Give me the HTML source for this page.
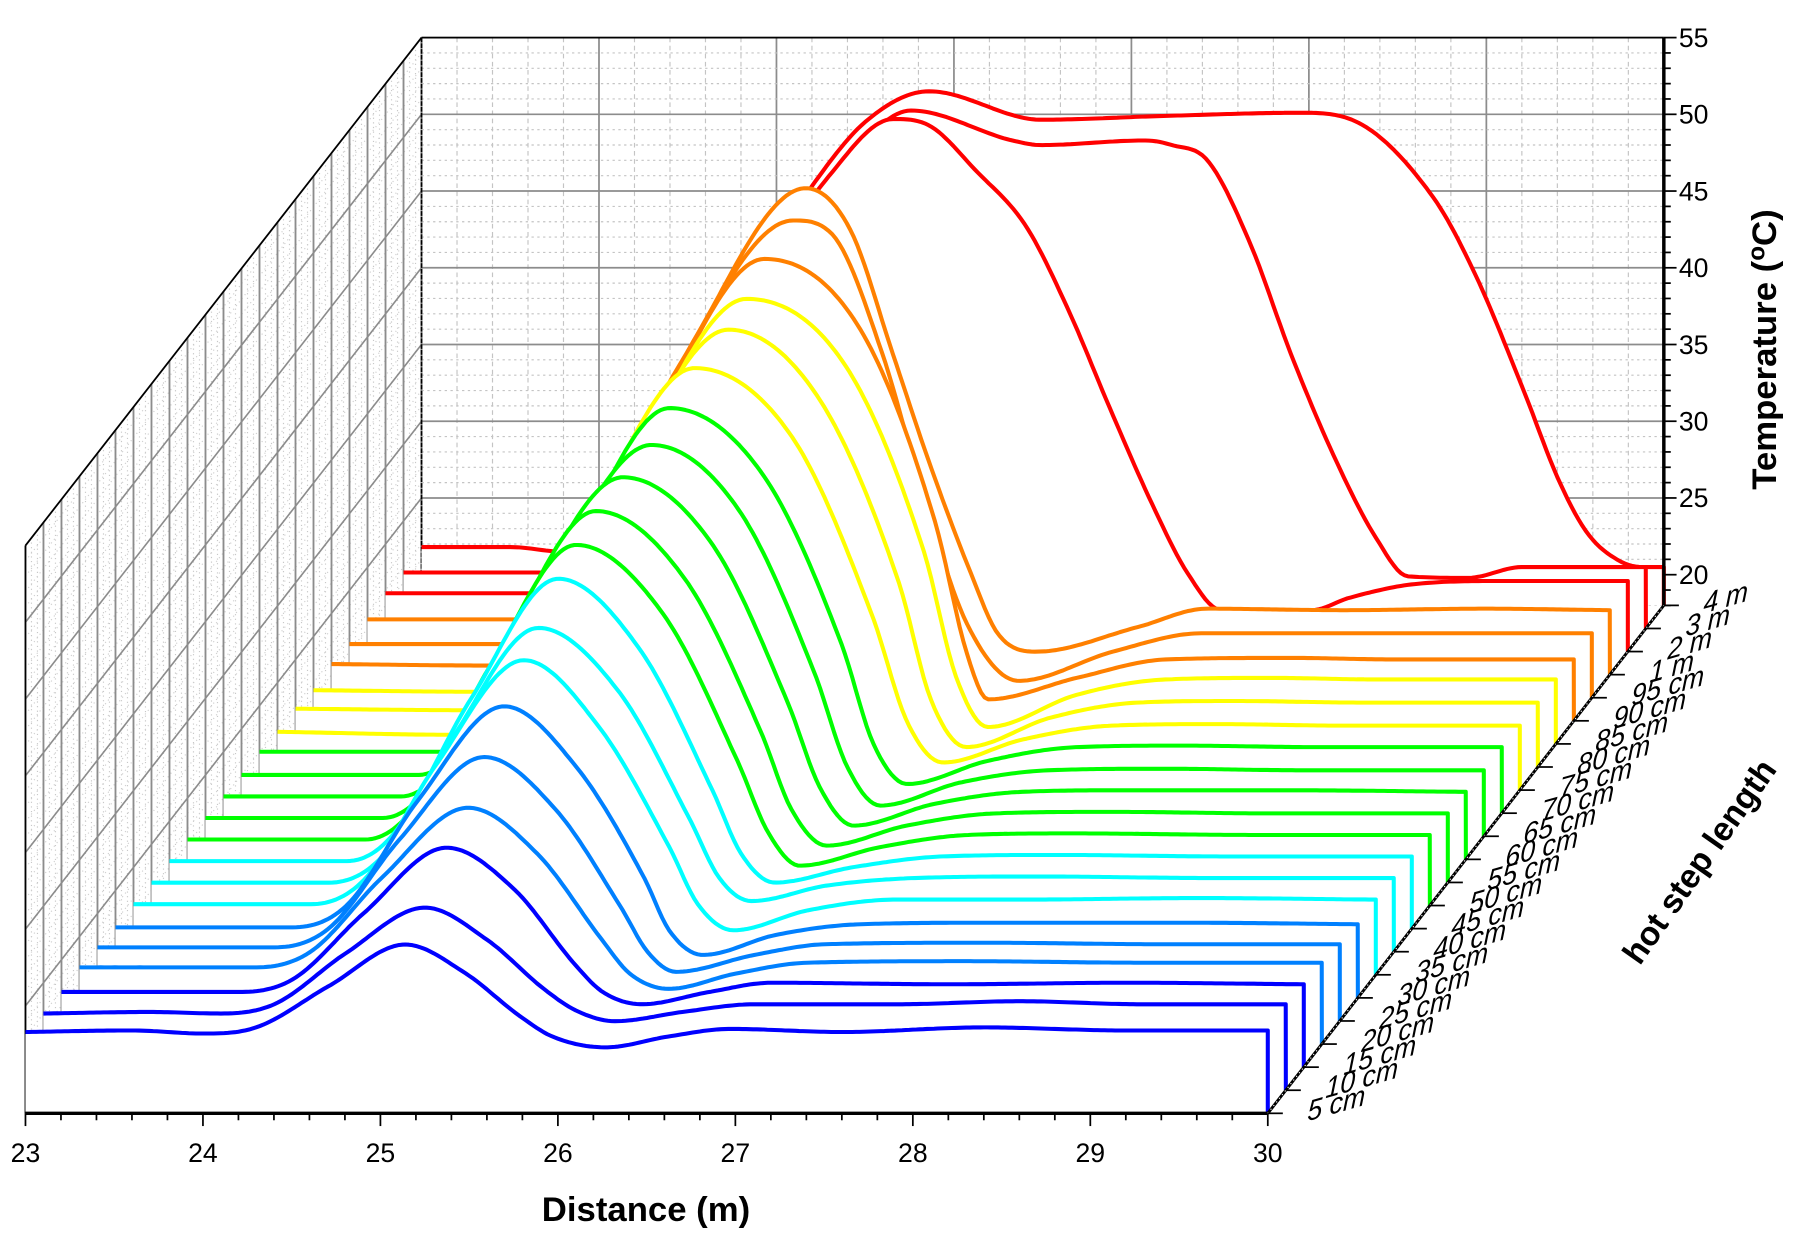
<!DOCTYPE html>
<html><head><meta charset="utf-8"><style>
html,body{margin:0;padding:0;background:#fff;}
svg{display:block;}
text{font-family:"Liberation Sans",Arial,sans-serif;}
</style></head>
<body>
<svg id="chart" width="1806" height="1236" viewBox="0 0 1560 1068" preserveAspectRatio="none" xmlns="http://www.w3.org/2000/svg">
<g id="walls"></g>
<g id="series"></g>
<g id="axes"></g>
</svg>
<script>
// ---- data ----
const xTicks = [23,24,25,26,27,28,29,30];
const tTicks = [20,25,30,35,40,45,50,55];
const stepLabels = ['5 cm','10 cm','15 cm','20 cm','25 cm','30 cm','35 cm','40 cm','45 cm','50 cm','55 cm','60 cm','65 cm','70 cm','75 cm','80 cm','85 cm','90 cm','95 cm','1 m','2 m','3 m','4 m'];
const seriesColors = ['#0000ff','#0000ff','#0000ff','#0080ff','#0080ff','#0080ff','#00ffff','#00ffff','#00ffff','#00ff00','#00ff00','#00ff00','#00ff00','#00ff00','#ffff00','#ffff00','#ffff00','#ff8000','#ff8000','#ff8000','#ff0000','#ff0000','#ff0000'];
const curveD = [
[23,23.6,24.0,24.3,24.71,25.14,25.47,25.79,25.97,26.27,26.62,26.97,27.6,28.4,29.2,30],
[23,23.6,24.0,24.3,24.7,25.15,25.5,25.82,26.0,26.22,26.6,27.0,27.8,28.5,29.2,30],
[23,24.0,24.3,24.7,25.17,25.55,25.9,26.05,26.27,26.65,27.0,28.0,29,30],
[23,24.0,24.3,24.7,25.19,25.58,25.95,26.1,26.32,26.7,27.1,28,29,30],
[23,24.0,24.3,24.7,25.18,25.58,25.95,26.1,26.26,26.7,27.1,28,29,30],
[23,24.0,24.3,24.7,25.19,25.6,25.98,26.12,26.31,26.72,27.2,28,29,30],
[23,24.0,24.3,24.7,25.2,25.62,26.02,26.18,26.38,26.8,27.3,28,29,30],
[23,24.0,24.3,24.7,25.18,25.63,26.03,26.2,26.38,26.8,27.3,28,29,30],
[23,24.0,24.25,24.7,25.19,25.65,26.06,26.22,26.41,26.85,27.35,28,29,30],
[23,24.0,24.25,24.7,25.19,25.68,26.1,26.27,26.45,26.9,27.4,28,29,30],
[23,24.0,24.25,24.7,25.2,25.7,26.13,26.3,26.5,26.95,27.45,28.1,29,30],
[23,24.0,24.25,24.7,25.25,25.75,26.18,26.36,26.55,27.0,27.5,28.1,29,30],
[23,24.0,24.25,24.75,25.31,25.8,26.23,26.41,26.6,27.05,27.55,28.2,29,30],
[23,24.05,24.3,24.8,25.31,25.84,26.28,26.46,26.65,27.1,27.6,28.2,29,30],
[23,24.05,24.3,24.8,25.35,25.9,26.35,26.55,26.75,27.2,27.7,28.3,29,30],
[23,24.0,24.3,24.85,25.44,25.95,26.4,26.58,26.78,27.25,27.75,28.3,29,30],
[23,23.95,24.25,24.85,25.44,26.0,26.44,26.62,26.8,27.3,27.8,28.4,29,30],
[23,23.94,24.25,24.85,25.44,25.98,26.4,26.58,26.7,27.2,27.7,28.4,29,30],
[23,23.89,24.2,24.85,25.5,25.72,26.0,26.25,26.48,26.77,27.3,27.8,28.4,29,30],
[23,23.86,24.2,24.85,25.47,25.72,25.96,26.16,26.4,26.55,26.77,27.34,27.73,28.5,29.3,30],
[23,23.85,24.2,24.6,24.9,25.5,25.86,26.06,26.33,26.61,26.85,27.08,27.32,27.52,27.71,28.22,28.43,28.8,29.3,30],
[23,23.81,24.2,24.6,24.9,25.5,25.86,26.43,26.59,27.18,27.33,27.53,27.77,28.0,28.24,28.48,28.66,29.0,29.3,30],
[23,23.5,23.8,24.2,24.6,24.9,25.18,25.5,25.86,26.49,27.2,27.95,28.23,28.7,28.94,29.21,29.41,29.57,29.75,29.88,30]
];
const curveT = [
[23.3,23.4,23.2,23.6,26.3,29.0,27.2,24.3,23.0,22.3,23.0,23.5,23.3,23.6,23.4,23.4],
[23.0,23.1,23.0,23.6,26.9,29.9,27.8,24.6,23.2,22.5,23.1,23.6,23.6,23.8,23.6,23.6],
[22.9,22.9,23.7,28.0,32.3,29.6,24.6,22.9,22.1,22.9,23.5,23.4,23.5,23.4],
[23.0,23.0,24.0,28.8,33.4,30.4,24.7,22.6,21.6,22.6,23.3,23.4,23.3,23.3],
[22.8,22.8,24.0,29.8,35.2,31.8,25.4,22.5,21.2,22.3,23.0,23.1,23.0,23.0],
[22.6,22.6,24.0,30.8,37.0,33.0,25.8,22.4,20.8,22.1,22.8,22.9,22.9,22.8],
[22.6,22.6,24.2,31.6,38.5,34.2,26.3,22.6,20.9,22.2,22.9,22.9,23.0,22.9],
[22.5,22.5,24.2,32.0,39.1,35.0,26.7,22.8,21.3,22.3,22.8,22.9,22.8,22.8],
[22.4,22.4,24.0,33.0,40.8,36.2,27.0,22.9,21.0,22.0,22.7,22.8,22.7,22.7],
[22.3,22.3,24.0,33.5,41.5,37.0,27.4,22.8,20.6,21.8,22.6,22.7,22.6,22.6],
[22.2,22.2,24.1,34.0,42.2,37.8,27.8,22.8,20.4,21.7,22.5,22.6,22.5,22.5],
[22.1,22.1,24.1,34.4,42.9,38.6,28.2,22.7,20.2,21.6,22.4,22.5,22.5,22.4],
[22.0,22.0,24.1,35.3,43.5,39.3,28.6,22.6,20.0,21.5,22.3,22.4,22.3,22.3],
[22.0,22.0,24.2,36.0,44.4,40.0,29.0,22.5,19.9,21.4,22.3,22.4,22.3,22.3],
[21.8,21.6,24.0,36.5,45.5,41.0,29.4,22.4,19.8,21.3,22.2,22.3,22.2,22.2],
[21.8,21.7,24.3,37.3,46.5,42.0,30.0,22.4,19.3,21.2,22.2,22.3,22.2,22.2],
[21.5,21.4,24.2,37.8,47.0,42.6,30.5,22.4,19.1,21.2,22.2,22.3,22.2,22.2],
[21.7,21.6,24.4,38.5,48.1,43.5,31.0,22.4,19.4,20.8,22.0,22.1,22.0,22.0],
[21.5,21.5,24.4,39.5,49.1,48.2,40.5,30.5,22.8,19.1,21.0,22.2,22.2,22.2,22.2],
[21.6,21.6,24.6,40.0,49.7,47.0,38.9,32.0,24.6,20.7,19.5,21.1,22.3,22.2,22.3,22.2],
[21.8,21.8,24.6,31.5,38.5,49.0,52.7,52.3,49.3,45.7,40.2,33.9,27.6,23.1,20.7,20.7,21.5,22.4,22.6,22.6],
[21.65,21.65,24.6,31.5,38.5,48.5,51.75,49.8,49.5,49.8,49.5,48.5,43.1,35.9,29.3,23.9,21.4,21.3,22.0,22.0],
[21.8,21.8,21.5,24.4,33.0,40.0,45.0,49.5,51.5,49.65,49.9,50.1,49.7,44.6,39.5,32.0,26.1,22.7,20.9,20.5,20.5]
];

// ---- projection ----
const NS='http://www.w3.org/2000/svg';
const X0=22, PX_PER_M=153.3, DX=15.55, Y0=962, PX_PER_C=13.26, DY=19.95, TMIN=18, TMAX=55;
function sx(d,k){return X0+(d-23)*PX_PER_M+k*DX;}
function sy(t,k){return Y0-(t-TMIN)*PX_PER_C-k*DY;}
function mk(tag,attrs,parent){const e=document.createElementNS(NS,tag);for(const a in attrs)e.setAttribute(a,attrs[a]);parent.appendChild(e);return e;}
function line(p,x1,y1,x2,y2,st,w,dash){return mk('line',{x1:x1,y1:y1,x2:x2,y2:y2,stroke:st,'stroke-width':w,'stroke-dasharray':dash||'none'},p);}
const KMAX=stepLabels.length-1;

function monotone(xs,ys){
  const n=xs.length,dl=[],m=[];
  for(let i=0;i<n-1;i++)dl.push((ys[i+1]-ys[i])/(xs[i+1]-xs[i]));
  m[0]=dl[0];m[n-1]=dl[n-2];
  for(let i=1;i<n-1;i++){m[i]=(dl[i-1]*dl[i]<=0)?0:(dl[i-1]+dl[i])/2;}
  for(let i=0;i<n-1;i++){if(dl[i]===0){m[i]=0;m[i+1]=0;continue;}const a=m[i]/dl[i],b=m[i+1]/dl[i],s=a*a+b*b;if(s>9){const t=3/Math.sqrt(s);m[i]=t*a*dl[i];m[i+1]=t*b*dl[i];}}
  return function(x){let i=0;while(i<n-2&&x>xs[i+1])i++;const h=xs[i+1]-xs[i],t=(x-xs[i])/h,t2=t*t,t3=t2*t;
    return (2*t3-3*t2+1)*ys[i]+(t3-2*t2+t)*h*m[i]+(-2*t3+3*t2)*ys[i+1]+(t3-t2)*h*m[i+1];};
}

// ---- walls ----
const walls=document.getElementById('walls');
for(let k=0;k<KMAX;k++){
  for(let j=1;j<3;j++){const x=sx(23,k)+DX*j/3;
    const l=line(walls,x,sy(TMAX,k+j/3),x,sy(TMIN,k+j/3),'#c8c8c8',1,'1 3');
    }
}
for(let t=TMIN;t<=TMAX;t+=1){
  const major=(t%5===0);
  const l=line(walls,sx(23,0),sy(t,0),sx(23,KMAX),sy(t,KMAX),major?'#8c8c8c':'#cfcfcf',major?1.4:1,major?'none':'1 3');
  
}
for(let k=0;k<=KMAX;k++){
  const l=line(walls,sx(23,k),sy(TMAX,k),sx(23,k),sy(TMIN,k),'#8c8c8c',1.6);
  
}
for(let d=23;d<=30.001;d+=0.2){
  const isMaj=Math.abs(d-Math.round(d))<1e-6;
  const l=line(walls,sx(d,KMAX),sy(TMAX,KMAX),sx(d,KMAX),sy(TMIN,KMAX),isMaj?'#8c8c8c':'#c4c4c4',isMaj?1.5:1,isMaj?'none':'4 3');
  
}
for(let t=TMIN;t<=TMAX;t+=1){
  const major=(t%5===0);
  const l=line(walls,sx(23,KMAX),sy(t,KMAX),sx(30,KMAX),sy(t,KMAX),major?'#8c8c8c':'#c4c4c4',major?1.5:1,major?'none':'2 3');
  
}
let e;
e=line(walls,sx(23,KMAX),sy(TMAX,KMAX),sx(30,KMAX),sy(TMAX,KMAX),'#000',1.5);

e=line(walls,sx(23,KMAX),sy(TMAX,KMAX),sx(23,KMAX),sy(TMIN,KMAX),'#000',1.5,'4 1');

e=line(walls,sx(23,0),sy(TMAX,0),sx(23,KMAX),sy(TMAX,KMAX),'#000',1.5);

e=line(walls,sx(23,0),sy(TMAX,0),sx(23,0),sy(TMIN,0),'#000',1.5);


// ---- series (back to front) ----
const sg=document.getElementById('series');
for(let k=KMAX;k>=0;k--){
  const ds=curveD[k],ts=curveT[k],f=monotone(ds,ts);
  let pts=[];
  for(let d=ds[0];d<=30.0001;d+=0.02){pts.push([sx(d,k),sy(f(d),k)]);}
  let curve=pts.map((p,i)=>(i?'L':'M')+p[0].toFixed(1)+','+p[1].toFixed(1)).join('');
  const fill=mk('path',{d:'M'+sx(23,k)+','+sy(TMIN,k)+curve.replace(/^M/,'L')+'L'+sx(30,k)+','+sy(TMIN,k)+'Z',fill:'#fff',stroke:'none'},sg);
  
  
  const p=mk('path',{d:curve+'L'+sx(30,k).toFixed(1)+','+sy(TMIN,k).toFixed(1),fill:'none',stroke:seriesColors[k],'stroke-width':3.5,'stroke-linejoin':'round'},sg);
  
  
}

// ---- axes ----
const ax=document.getElementById('axes');
e=line(ax,sx(23,0),Y0,sx(30,0),Y0,'#000',3);

for(let d=23;d<=30.001;d+=0.2){
  const isMaj=Math.abs(d-Math.round(d))<1e-6;
  const l=line(ax,sx(d,0),Y0,sx(d,0),Y0+(isMaj?11:6),'#000',1.5);
  
}
xTicks.forEach(v=>{
  const t=mk('text',{x:sx(v,0),y:Y0+42,'font-size':23,'text-anchor':'middle',fill:'#000'},ax);t.textContent=v;
  
});
e=mk('text',{x:558,y:1055,'font-size':30,'font-weight':'bold','text-anchor':'middle',fill:'#000'},ax);e.textContent='Distance (m)';

const TX=sx(30,KMAX);
e=line(ax,TX,sy(TMIN,KMAX),TX,sy(TMAX,KMAX),'#000',3);

for(let t=TMIN;t<=TMAX;t+=1){
  const l=line(ax,TX,sy(t,KMAX),TX+(t%5===0?11:6),sy(t,KMAX),'#000',1.5);
  
}
tTicks.forEach(v=>{
  const t=mk('text',{x:TX+13,y:sy(v,KMAX)+8,'font-size':23,fill:'#000'},ax);t.textContent=v;
  
});
e=mk('text',{x:0,y:0,'font-size':30,'font-weight':'bold','text-anchor':'middle',fill:'#000',transform:'translate(1534,302) rotate(-90)'},ax);
e.innerHTML='Temperature (<tspan dy="-10" font-size="21">o</tspan><tspan dy="10">C)</tspan>';

e=line(ax,sx(30,0),sy(TMIN,0),sx(30,KMAX),sy(TMIN,KMAX),'#000',2.5);

e=line(ax,sx(30,0),sy(TMIN,0),sx(30,KMAX),sy(TMIN,KMAX),'#fff',1,'1 3');

stepLabels.forEach((lab,k)=>{
  const x=sx(30,k),y=sy(TMIN,k);
  const l=line(ax,x,y,x+13,y,'#000',1.5);
  
  const t=mk('text',{x:0,y:0,'font-size':24,'font-style':'italic',fill:'#000',transform:'translate('+(x+34)+','+(y+7)+') rotate(-16) skewX(-18)'},ax);
  t.textContent=lab;
  
});
e=mk('text',{x:0,y:0,'font-size':29,'font-weight':'bold','text-anchor':'middle',fill:'#000',transform:'translate(1476,750) rotate(-55)'},ax);
e.textContent='hot step length';

</script>
</body></html>
